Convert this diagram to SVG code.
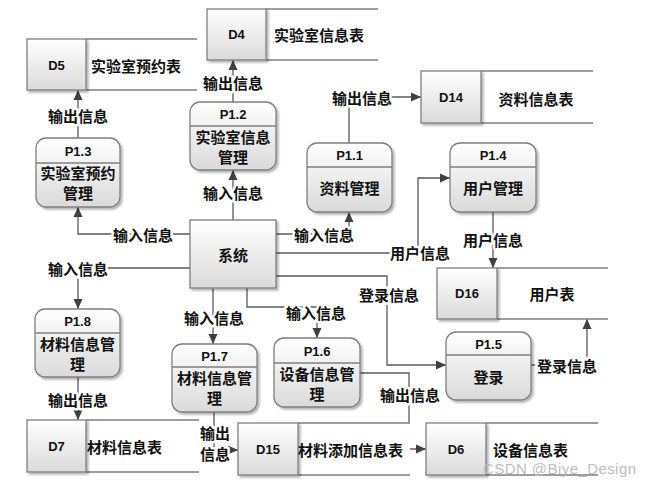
<svg xmlns="http://www.w3.org/2000/svg" width="651" height="487" viewBox="0 0 651 487">
<defs>
<linearGradient id="g" x1="0" y1="0" x2="0" y2="1">
<stop offset="0" stop-color="#ffffff"/>
<stop offset="1" stop-color="#dadada"/>
</linearGradient>
<filter id="sh" x="-10%" y="-10%" width="130%" height="130%">
<feDropShadow dx="2" dy="2" stdDeviation="1.2" flood-color="#000" flood-opacity="0.3"/>
</filter>
<marker id="ar" viewBox="0 0 10 10" refX="10" refY="5" markerWidth="10" markerHeight="10" markerUnits="userSpaceOnUse" orient="auto">
<path d="M0,0.5 L10,5 L0,9.5 Z" fill="#404040"/>
</marker>
</defs>
<style>
.box{fill:url(#g);stroke:#7f7f7f;stroke-width:1.3;filter:url(#sh)}
.div{stroke:#7f7f7f;stroke-width:1.3;fill:none}
.sl{stroke:#7f7f7f;stroke-width:1.3;fill:none}
.name{fill:#fff}
.c{fill:none;stroke:#5a5a5a;stroke-width:1.3}
.ca{fill:none;stroke:#5a5a5a;stroke-width:1.3;marker-end:url(#ar)}
.t{font-family:"Noto Sans CJK SC","Noto Sans CJK JP",sans-serif;font-size:15px;font-weight:bold;fill:#111;dominant-baseline:central;text-anchor:middle}
.ts{text-anchor:start}
.id{font-family:"Liberation Sans",Arial,sans-serif;font-size:13px;font-weight:bold;fill:#111;dominant-baseline:central;text-anchor:middle}
.lb{font-family:"Noto Sans CJK SC","Noto Sans CJK JP",sans-serif;font-size:15px;font-weight:bold;fill:#111;dominant-baseline:central;text-anchor:middle;stroke:#fff;stroke-width:5;paint-order:stroke;stroke-linejoin:round}
.wm{font-family:"Liberation Sans",Arial,sans-serif;font-size:15px;fill:#bdbdbd;dominant-baseline:central}
</style>
<rect width="651" height="487" fill="#fff"/>

<g id="connectors">
<path class="ca" d="M233 220 V170"/>
<path class="ca" d="M233 102 V60"/>
<path class="ca" d="M78 138 V90"/>
<path class="ca" d="M190 234 H78 V207"/>
<path class="ca" d="M190 268 H78 V309"/>
<path class="ca" d="M78 377 V420"/>
<path class="ca" d="M213 288 V344"/>
<path class="ca" d="M247 288 V307 H317 V338"/>
<path class="ca" d="M214 412 V450 H238"/>
<path class="ca" d="M360 373 H409 V449 H426"/>
<path class="ca" d="M276 276 H387 V365 H446"/>
<path class="ca" d="M531 365 H587 V319"/>
<path class="ca" d="M493 212 V268"/>
<path class="ca" d="M276 253 H418 V178 H450"/>
<path class="ca" d="M276 234 H349 V212"/>
<path class="ca" d="M349 143 V97 H421"/>
<text class="lb" x="233" y="192">输入信息</text>
<text class="lb" x="233" y="82">输出信息</text>
<text class="lb" x="78" y="115">输出信息</text>
<text class="lb" x="143" y="234">输入信息</text>
<text class="lb" x="78" y="268">输入信息</text>
<text class="lb" x="78" y="399">输出信息</text>
<text class="lb" x="214" y="317">输入信息</text>
<text class="lb" x="316" y="312">输入信息</text>
<text class="lb" x="215" y="432">输出</text>
<text class="lb" x="215" y="453">信息</text>
<text class="lb" x="410" y="394">输出信息</text>
<text class="lb" x="389" y="294">登录信息</text>
<text class="lb" x="567" y="365">登录信息</text>
<text class="lb" x="493" y="239">用户信息</text>
<text class="lb" x="420" y="252">用户信息</text>
<text class="lb" x="324" y="234">输入信息</text>
<text class="lb" x="362" y="97">输出信息</text>
</g>

<g id="sys">
<rect class="box" x="190" y="220" width="86" height="68"/>
<text class="t" x="233" y="254">系统</text>
</g>

<g id="P1.1">
<rect class="box" x="307" y="143" width="85" height="69" rx="10"/>
<line class="div" x1="307" y1="167" x2="392" y2="167"/>
<text class="id" x="349.5" y="155">P1.1</text>
<text class="t" x="349.5" y="187">资料管理</text>
</g>
<g id="P1.2">
<rect class="box" x="190" y="102" width="86" height="68" rx="10"/>
<line class="div" x1="190" y1="126" x2="276" y2="126"/>
<text class="id" x="233" y="114">P1.2</text>
<text class="t" x="233" y="136">实验室信息</text>
<text class="t" x="233" y="156">管理</text>
</g>
<g id="P1.3">
<rect class="box" x="36" y="138" width="84" height="69" rx="10"/>
<line class="div" x1="36" y1="163" x2="120" y2="163"/>
<text class="id" x="78" y="151">P1.3</text>
<text class="t" x="78" y="172">实验室预约</text>
<text class="t" x="78" y="192">管理</text>
</g>
<g id="P1.4">
<rect class="box" x="450" y="143" width="86" height="69" rx="10"/>
<line class="div" x1="450" y1="167" x2="536" y2="167"/>
<text class="id" x="493" y="155">P1.4</text>
<text class="t" x="493" y="187">用户管理</text>
</g>
<g id="P1.5">
<rect class="box" x="446" y="332" width="85" height="68" rx="10"/>
<line class="div" x1="446" y1="355" x2="531" y2="355"/>
<text class="id" x="488.5" y="344">P1.5</text>
<text class="t" x="488.5" y="376">登录</text>
</g>
<g id="P1.6">
<rect class="box" x="274" y="338" width="86" height="69" rx="10"/>
<line class="div" x1="274" y1="363" x2="360" y2="363"/>
<text class="id" x="317" y="351">P1.6</text>
<text class="t" x="317" y="373">设备信息管</text>
<text class="t" x="317" y="393">理</text>
</g>
<g id="P1.7">
<rect class="box" x="172" y="344" width="85" height="68" rx="10"/>
<line class="div" x1="172" y1="367" x2="257" y2="367"/>
<text class="id" x="214.5" y="356">P1.7</text>
<text class="t" x="214.5" y="377">材料信息管</text>
<text class="t" x="214.5" y="397">理</text>
</g>
<g id="P1.8">
<rect class="box" x="35" y="309" width="85" height="68" rx="10"/>
<line class="div" x1="35" y1="333" x2="120" y2="333"/>
<text class="id" x="77.5" y="321">P1.8</text>
<text class="t" x="77.5" y="343">材料信息管</text>
<text class="t" x="77.5" y="363">理</text>
</g>

<g id="D4">
<rect class="name" x="266" y="9" width="112" height="51"/>
<path class="sl" d="M266 9 H378 M266 60 H378"/>
<rect class="box" x="207" y="9" width="59" height="51"/>
<text class="id" x="236.5" y="34.5">D4</text>
<text class="t ts" x="274" y="34">实验室信息表</text>
</g>
<g id="D5">
<rect class="name" x="86" y="39" width="111" height="51"/>
<path class="sl" d="M86 39 H197 M86 90 H197"/>
<rect class="box" x="27" y="39" width="59" height="51"/>
<text class="id" x="56.5" y="65">D5</text>
<text class="t ts" x="91" y="65">实验室预约表</text>
</g>
<g id="D14">
<rect class="name" x="481" y="71" width="112" height="52"/>
<path class="sl" d="M481 71 H593 M481 123 H593"/>
<rect class="box" x="421" y="71" width="60" height="52"/>
<text class="id" x="451" y="97">D14</text>
<text class="t" x="536" y="98">资料信息表</text>
</g>
<g id="D16">
<rect class="name" x="497" y="268" width="111" height="51"/>
<path class="sl" d="M497 268 H608 M497 319 H608"/>
<rect class="box" x="437" y="268" width="60" height="51"/>
<text class="id" x="467" y="293.5">D16</text>
<text class="t" x="552" y="293">用户表</text>
</g>
<g id="D7">
<rect class="name" x="86" y="420" width="113" height="52"/>
<path class="sl" d="M86 420 H199 M86 472 H199"/>
<rect class="box" x="27" y="420" width="59" height="52"/>
<text class="id" x="56.5" y="446">D7</text>
<text class="t ts" x="87" y="446">材料信息表</text>
</g>
<g id="D15">
<rect class="name" x="298" y="423" width="112" height="52"/>
<path class="sl" d="M298 423 H410 M298 475 H410"/>
<rect class="box" x="238" y="423" width="60" height="52"/>
<text class="id" x="268" y="449.5">D15</text>
<text class="t ts" x="298" y="449">材料添加信息表</text>
</g>
<g id="D6">
<rect class="name" x="486" y="423" width="112" height="52"/>
<path class="sl" d="M486 423 H598 M486 475 H598"/>
<rect class="box" x="426" y="423" width="60" height="52"/>
<text class="id" x="456" y="449.5">D6</text>
<text class="t ts" x="493" y="449">设备信息表</text>
</g>

<text class="wm" x="483" y="468" textLength="153">CSDN @Biye_Design</text>
</svg>
